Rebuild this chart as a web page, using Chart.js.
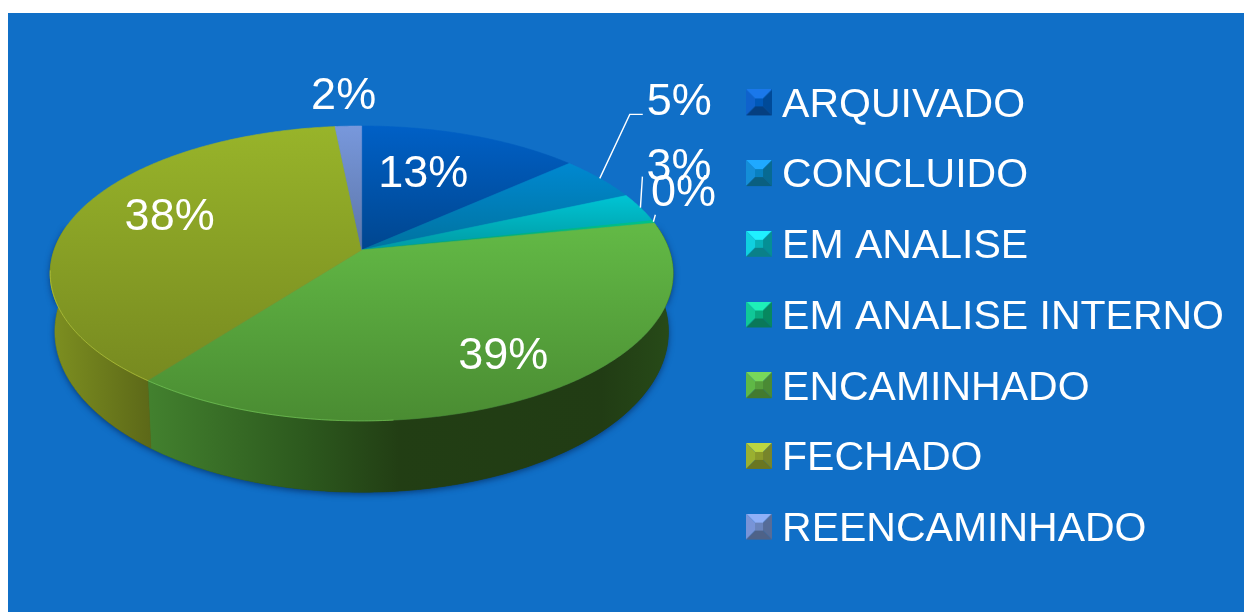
<!DOCTYPE html>
<html><head><meta charset="utf-8">
<script src="https://cdn.jsdelivr.net/npm/chart.js@4/dist/chart.umd.js"></script>
<style>
html,body{margin:0;padding:0;background:#fff;width:1244px;height:612px;overflow:hidden}
#wrap{position:absolute;left:8px;top:13px;width:1236px;height:599px;background:#106fc7}
canvas{display:block}
</style></head><body>
<div id="wrap"><canvas id="c" width="1236" height="599"></canvas></div>
<script>
// ---- data ----
const categories = ['ARQUIVADO','CONCLUIDO','EM ANALISE','EM ANALISE INTERNO','ENCAMINHADO','FECHADO','REENCAMINHADO'];
const values = [13.4, 5.0, 3.2, 0.3, 38.5, 38.0, 1.6];

// ---- styles ----
const baseColors  = ['#0060c6','#0088d0','#00c4d4','#00c48a','#63ba46','#98b42a','#7898dc'];
const faceDark    = ['#00468f','#00739f','#009aa2','#00a070','#4a8c32','#778a20','#5c75a8'];
const sideLeft    = ['#003a78','#005f85','#008088','#008058','#41802e','#7c8e20','#4a5e88'];
const sideRight   = ['#003a78','#005f85','#008088','#008058','#274a18','#5c6818','#4a5e88'];
const swatchTop   = ['#1a78ea','#1fa9ff','#20f0ff','#1ef0b8','#78d85a','#bcd640','#8fb0f8'];
const swatchLeft  = ['#0f62cc','#148ed8','#10d0e0','#10c898','#5fb846','#9ab030','#7894d8'];
const swatchCore  = ['#0058b8','#0880c0','#08b0b8','#08a87c','#559e3c','#8a9a2a','#6a84bc'];
const swatchRight = ['#004a98','#076a92','#058f95','#07885f','#4a8a34','#77852a','#566c98'];
const swatchBot   = ['#053f80','#0a5f80','#0a8088','#0a7858','#437a2e','#6a7620','#4e6288'];

// projection of the pie's unit circle, as ratios of the arc element's radius
const TILT = {a:1.0267, b:0.4798, k:0.159, dropY:0.187, floorA:0.985, floorB:1.09, offX:-0.0359, offY:-0.2087};
const FRONT_FROM = 80*Math.PI/180, FRONT_TO = 280*Math.PI/180;
const RIM_FROM = 175*Math.PI/180, RIM_TO = 262*Math.PI/180;
const LEGEND_SHIFT = {x:-10, y:5};

const innerLabels = {0:{r:.65,dx:-13,dy:3}, 4:{r:.65,dx:26,dy:20}, 5:{r:.65,dx:-5,dy:-8}};
const outerLabels = {1:{r:1.15,dx:47,dy:-66,lead:[[30,-64],[43,-64]]},
                     2:{r:1.15,dx:-1,dy:-37+2.5,lead:[[2,-31]]},
                     3:{r:1.15,dx:-12,dy:-24,lead:[[2,-7]]},
                     6:{r:1.15,dx:-3,dy:-14}};
const LABEL_FONT = '45px "Liberation Sans"';

function proj(el,t,r,floor){
  const R=el.outerRadius, u=r*Math.sin(t), v=-r*Math.cos(t), d=1-TILT.k*v;
  const sa=floor?TILT.floorA:1, sb=floor?TILT.floorB:1, oy=floor?TILT.dropY*R:0;
  return {x:el.x+TILT.offX*R+TILT.a*R*sa*u/d, y:el.y+TILT.offY*R+oy+TILT.b*R*sb*v/d};
}
function theta(a){return a+Math.PI/2;}
function topPath(ctx,el){
  const a0=theta(el.startAngle),a1=theta(el.endAngle),n=Math.max(2,Math.ceil((a1-a0)/0.01));
  const pts=[],o=proj(el,0,0);
  for(let i=0;i<=n;i++)pts.push(proj(el,a0+(a1-a0)*i/n,1));
  ctx.beginPath();ctx.moveTo(o.x,o.y);pts.forEach(p=>ctx.lineTo(p.x,p.y));ctx.closePath();
  const ys=pts.map(p=>p.y).concat(o.y);
  return {y0:Math.min(...ys),y1:Math.max(...ys)};
}
// slices are drawn through the library's own arc elements, projected
Chart.ArcElement.prototype.draw=function(ctx){
  const i=this.$context.dataIndex;
  ctx.save();
  const b=topPath(ctx,this);
  const g=ctx.createLinearGradient(0,b.y0,0,b.y1);
  g.addColorStop(0,baseColors[i]);g.addColorStop(1,faceDark[i]);
  ctx.fillStyle=g;ctx.fill();
  ctx.strokeStyle=g;ctx.lineWidth=.6;ctx.stroke();
  ctx.restore();
};
const sidePlugin={id:'side',
  afterLayout(chart){
    const l=chart.legend;
    l.left+=LEGEND_SHIFT.x;l.right+=LEGEND_SHIFT.x;l.top+=LEGEND_SHIFT.y;l.bottom+=LEGEND_SHIFT.y;
  },
  beforeDatasetsDraw(chart){
    const ctx=chart.ctx,els=chart.getDatasetMeta(0).data;
    const e0=els[0];
    // soft shadow under the body
    ctx.save();
    ctx.shadowColor='rgba(0,25,70,.6)';ctx.shadowBlur=6;ctx.shadowOffsetY=2;
    ctx.fillStyle='#234018';ctx.beginPath();
    for(let i=0;i<=200;i++){const p=proj(e0,FRONT_FROM+(FRONT_TO-FRONT_FROM)*i/200,1,true);i?ctx.lineTo(p.x,p.y):ctx.moveTo(p.x,p.y);}
    for(let i=200;i>=0;i--){const p=proj(e0,FRONT_FROM+(FRONT_TO-FRONT_FROM)*i/200,1);ctx.lineTo(p.x,p.y);}
    ctx.closePath();ctx.fill();ctx.restore();
    els.forEach((el,i)=>{
      const a0=Math.max(theta(el.startAngle),FRONT_FROM),a1=Math.min(theta(el.endAngle),FRONT_TO);
      if(a1<=a0)return;
      const n=Math.ceil((a1-a0)/.01);
      const top=[],bot=[];
      for(let k=0;k<=n;k++){const t=a0+(a1-a0)*k/n;top.push(proj(el,t,1));bot.push(proj(el,t,1,true));}
      const xs=bot.map(p=>p.x);
      ctx.save();ctx.beginPath();
      top.forEach((p,k)=>k?ctx.lineTo(p.x,p.y):ctx.moveTo(p.x,p.y));
      bot.reverse().forEach(p=>ctx.lineTo(p.x,p.y));ctx.closePath();
      const xa=Math.min(...xs),xb=Math.max(...xs);
      const g=ctx.createLinearGradient(xa,0,xb,0);
      if(i===4){
        g.addColorStop(0,'#42802e');g.addColorStop(.29,'#2d5a1e');g.addColorStop(.48,'#223e14');
        g.addColorStop(.87,'#213c14');g.addColorStop(1,'#274a18');
      }else{g.addColorStop(0,sideLeft[i]);g.addColorStop(1,sideRight[i]);}
      ctx.fillStyle=g;ctx.fill();ctx.strokeStyle=g;ctx.lineWidth=.6;ctx.stroke();ctx.restore();
    });
  },
  afterDatasetsDraw(chart){
    const ctx=chart.ctx,els=chart.getDatasetMeta(0).data;
    // light rim on the front edge
    els.forEach((el,i)=>{
      const a0=Math.max(theta(el.startAngle),RIM_FROM),a1=Math.min(theta(el.endAngle),RIM_TO);
      if(a1<=a0)return;
      ctx.save();ctx.beginPath();
      const n=Math.ceil((a1-a0)/.01);
      for(let k=0;k<=n;k++){const p=proj(el,a0+(a1-a0)*k/n,1);k?ctx.lineTo(p.x,p.y):ctx.moveTo(p.x,p.y);}
      ctx.strokeStyle=i===4?'rgba(130,215,95,.55)':'rgba(190,205,60,.65)';ctx.lineWidth=1;ctx.stroke();ctx.restore();
    });
    // percent labels
    const total=values.reduce((s,v)=>s+v,0);
    ctx.save();ctx.font=LABEL_FONT;ctx.fillStyle='#fff';ctx.textAlign='center';ctx.textBaseline='middle';
    els.forEach((el,i)=>{
      const t=theta((el.startAngle+el.endAngle)/2),c=innerLabels[i]||outerLabels[i];
      const p=proj(el,t,c.r);
      ctx.fillText(Math.round(values[i]/total*100)+'%',p.x+c.dx,p.y+c.dy);
      if(c.lead){
        const e=proj(el,t,1);
        ctx.beginPath();ctx.moveTo(e.x,e.y);
        c.lead.forEach(o=>ctx.lineTo(e.x+o[0],e.y+o[1]));
        ctx.strokeStyle='#fff';ctx.lineWidth=1.4;ctx.stroke();
      }
    });
    ctx.restore();
  }
};
function swatch(i){
  const S=26,m=9,c=document.createElement('canvas');c.width=S;c.height=S+6;
  const x=c.getContext('2d');
  const poly=(col,...p)=>{x.fillStyle=col;x.beginPath();p.forEach((q,j)=>j?x.lineTo(q[0],q[1]):x.moveTo(q[0],q[1]));x.closePath();x.fill();};
  const a=m,b=S-m;
  poly(swatchTop[i],[0,0],[S,0],[b,a],[a,a]);
  poly(swatchLeft[i],[0,0],[a,a],[a,b],[0,S]);
  poly(swatchRight[i],[S,0],[S,S],[b,b],[b,a]);
  poly(swatchBot[i],[0,S],[a,b],[b,b],[S,S]);
  poly(swatchCore[i],[a,a],[b,a],[b,b],[a,b]);
  return c;
}
new Chart(document.getElementById('c'),{
  type:'pie',
  data:{labels:categories,datasets:[{data:values,backgroundColor:baseColors,borderWidth:0,clip:false}]},
  plugins:[sidePlugin],
  options:{
    responsive:false,animation:false,rotation:0,
    layout:{padding:0},
    plugins:{
      tooltip:{enabled:false},
      legend:{position:'right',align:'center',
        labels:{color:'#fff',font:{family:'"Liberation Sans"',size:41},usePointStyle:true,pointStyleWidth:5,boxHeight:26,padding:29.7,
          generateLabels(chart){return categories.map((t,i)=>({text:t,fillStyle:baseColors[i],strokeStyle:baseColors[i],lineWidth:0,pointStyle:swatch(i),fontColor:'#fff',index:i,hidden:false}));}
        }}
    }
  }
});
</script>
</body></html>
